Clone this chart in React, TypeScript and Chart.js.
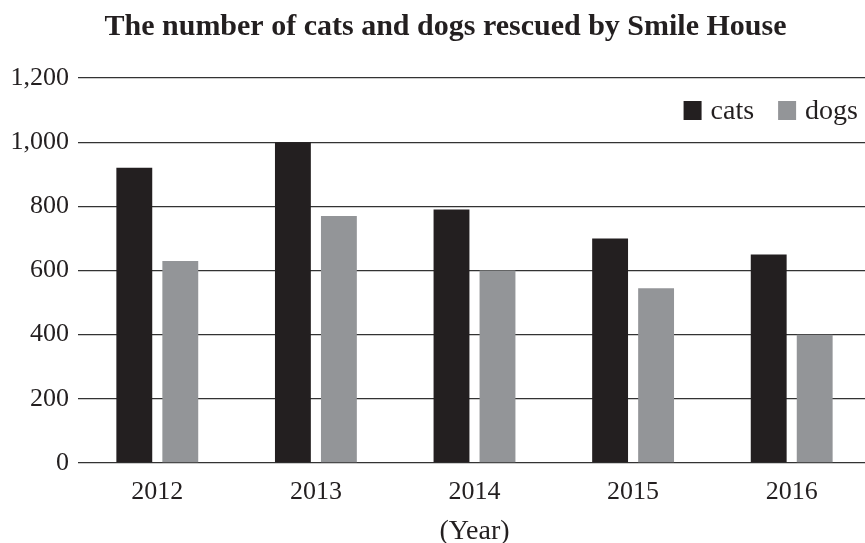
import React, { useEffect, useRef } from "react";
import { Chart, registerables } from "chart.js";

Chart.register(...registerables);

const years = ["2012", "2013", "2014", "2015", "2016"];
const cats = [920, 1000, 790, 700, 650];
const dogs = [630, 770, 600, 545, 400];
const titleText = "The number of cats and dogs rescued by Smile House";
const xTitle = "(Year)";
const yMax = 1200;
const yStep = 200;

const FONT = "'Liberation Serif', 'Times New Roman', serif";
const INK = "#231f20";
const GRAY = "#939598";

const titlePlugin = {
  id: "customTitle",
  afterDraw(chart: any) {
    const ctx = chart.ctx;
    ctx.save();
    ctx.font = `bold 30px ${FONT}`;
    ctx.fillStyle = INK;
    ctx.textAlign = "center";
    ctx.textBaseline = "alphabetic";
    ctx.fillText(titleText, 445.5, 35);
    ctx.restore();
  },
};

const legendPlugin = {
  id: "insideLegend",
  afterDraw(chart: any) {
    const ctx = chart.ctx;
    const ds = chart.data.datasets;
    ctx.save();
    ctx.font = `28px ${FONT}`;
    ctx.textBaseline = "middle";
    ctx.textAlign = "left";
    const boxW = 18;
    const boxH = 19;
    const gapText = 9;
    const gapItem = 24;
    const cy = 110.5;
    const widths = ds.map((d: any) => ctx.measureText(d.label).width);
    let total = 0;
    ds.forEach((d: any, i: number) => {
      total += boxW + gapText + widths[i];
      if (i < ds.length - 1) total += gapItem;
    });
    let x = 858 - total;
    ds.forEach((d: any, i: number) => {
      ctx.fillStyle = d.backgroundColor;
      ctx.fillRect(x, cy - boxH / 2, boxW, boxH);
      x += boxW + gapText;
      ctx.fillStyle = INK;
      ctx.fillText(d.label, x, cy + 1);
      x += widths[i] + gapItem;
    });
    ctx.restore();
  },
};

export default function App() {
  const ref = useRef<HTMLCanvasElement>(null);
  useEffect(() => {
    if (!ref.current) return;
    const chart = new Chart(ref.current, {
      type: "bar",
      data: {
        labels: years,
        datasets: [
          { label: "cats", data: cats, backgroundColor: INK },
          { label: "dogs", data: dogs, backgroundColor: GRAY },
        ],
      },
      options: {
        animation: false,
        responsive: false,
        layout: { padding: { left: 0, right: 9, top: 78, bottom: 0 } },
        datasets: {
          bar: { categoryPercentage: 0.58, barPercentage: 0.78 },
        },
        plugins: {
          legend: { display: false },
          tooltip: { enabled: false },
          title: { display: false },
        },
        scales: {
          x: {
            grid: { display: false, drawTicks: false },
            border: { display: false },
            ticks: {
              color: INK,
              font: { family: FONT, size: 26, lineHeight: 1.0 },
              padding: 16,
            },
            title: {
              display: true,
              text: xTitle,
              color: INK,
              font: { family: FONT, size: 28, lineHeight: 1.0 },
              padding: { top: 0, bottom: -3 },
            },
            afterFit: (scale: any) => {
              scale.height = 80;
            },
          },
          y: {
            min: 0,
            max: yMax,
            grid: { color: "#333333", lineWidth: 1.3, drawTicks: false },
            border: { display: false },
            ticks: {
              stepSize: yStep,
              color: INK,
              font: { family: FONT, size: 26 },
              padding: 9,
              callback: (v: any) => Number(v).toLocaleString("en-US"),
            },
            afterFit: (scale: any) => {
              scale.width = 78;
            },
          },
        },
      },
      plugins: [titlePlugin, legendPlugin],
    } as any);
    return () => chart.destroy();
  }, []);
  return (
    <div
      style={{
        position: "absolute",
        left: 0,
        top: 0,
        width: 865,
        height: 543,
        overflow: "hidden",
        background: "#fff",
      }}
    >
      <canvas ref={ref} width={880} height={543} style={{ display: "block" }} />
    </div>
  );
}
